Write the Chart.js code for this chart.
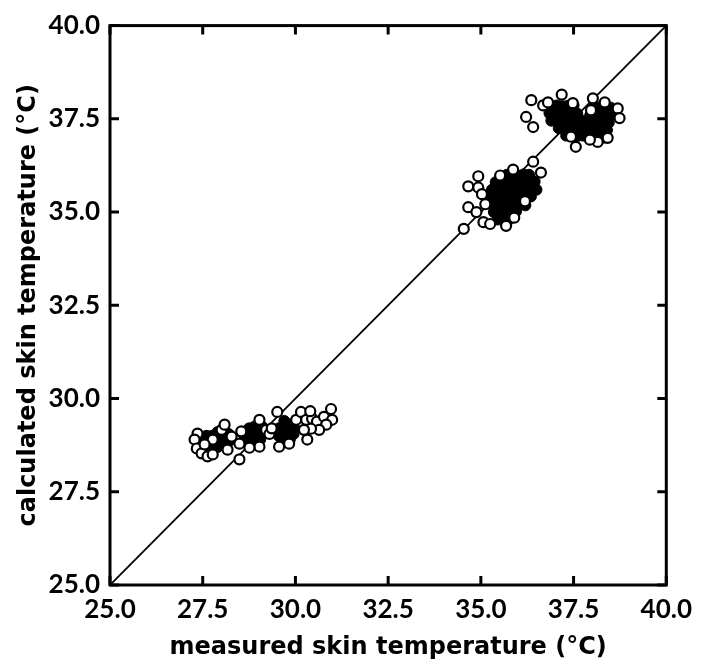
<!DOCTYPE html>
<html>
<head>
<meta charset="utf-8">
<script src="https://cdn.jsdelivr.net/npm/chart.js@4/dist/chart.umd.min.js"></script>
<style>
  html, body { margin: 0; padding: 0; background: #ffffff; }
  #wrap { width: 701px; height: 663px; }
</style>
</head>
<body>
<div id="wrap"><canvas id="c" width="701" height="663"></canvas></div>
<script>
// Axis range and tick spacing (°C)
const axisMin = 25;
const axisMax = 40;
const tickStep = 2.5;

// Line of identity: calculated = measured
const identityLine = [[25, 25], [40, 40]];

// Cool condition (~27-31 °C): tightly overlapping observations
const coolDense = [
  [27.45, 28.75], [27.45, 28.95], [27.60, 28.60], [27.60, 28.80], [27.60, 29.00],
  [27.75, 28.60], [27.75, 28.80], [27.75, 29.00], [27.90, 28.70], [27.90, 28.90],
  [27.90, 29.10], [28.05, 28.75], [28.05, 28.95], [28.20, 28.85], [28.20, 29.05],
  [28.60, 28.85], [28.60, 29.05], [28.75, 28.80], [28.75, 29.00], [28.75, 29.20],
  [28.90, 28.85], [28.90, 29.05], [28.90, 29.25], [29.05, 28.90], [29.05, 29.10],
  [29.10, 29.25],
  [29.55, 29.00], [29.55, 29.20], [29.70, 28.85], [29.70, 29.05], [29.70, 29.25],
  [29.70, 29.40], [29.85, 28.90], [29.85, 29.10], [29.85, 29.30], [29.95, 29.05],
  [29.95, 29.25]
];
// Cool condition: separately visible observations
const coolOpen = [
  [27.36, 29.06], [27.28, 28.90], [27.34, 28.66], [27.47, 28.53], [27.63, 28.45],
  [27.77, 28.50], [28.01, 29.16], [28.09, 29.30], [28.17, 28.63], [28.28, 28.98],
  [27.77, 28.90], [27.55, 28.77],
  [28.49, 28.79], [28.54, 29.12], [29.03, 29.43], [29.03, 28.71], [28.76, 28.68],
  [29.21, 29.16], [29.30, 29.05], [29.36, 29.20],
  [29.51, 29.64], [29.56, 28.71], [29.83, 28.79], [30.02, 29.43],
  [28.49, 28.37],
  [30.15, 29.64], [30.29, 29.43], [30.45, 29.46], [30.58, 29.38], [30.77, 29.51],
  [30.96, 29.72], [30.99, 29.43], [30.83, 29.30], [30.64, 29.16], [30.42, 29.19],
  [30.32, 28.90], [30.23, 29.16], [30.40, 29.66]
];

// Warm condition (~35-36.5 °C)
const warmDense = [
  [35.70, 36.00], [35.85, 36.02], [36.00, 35.98], [36.15, 36.01], [36.30, 36.00],
  [35.40, 35.80], [35.55, 35.82], [35.70, 35.79], [35.85, 35.80], [36.00, 35.81],
  [36.15, 35.78], [36.30, 35.80], [36.45, 35.82],
  [35.30, 35.60], [35.45, 35.61], [35.60, 35.58], [35.75, 35.60], [35.90, 35.62],
  [36.05, 35.59], [36.20, 35.60], [36.35, 35.61], [36.50, 35.60],
  [35.30, 35.40], [35.45, 35.42], [35.60, 35.39], [35.75, 35.40], [35.90, 35.41],
  [36.05, 35.38], [36.20, 35.40], [36.35, 35.42],
  [35.30, 35.20], [35.45, 35.21], [35.60, 35.19], [35.75, 35.20], [35.90, 35.22],
  [36.05, 35.20], [36.20, 35.18],
  [35.35, 35.00], [35.50, 35.01], [35.65, 34.99], [35.80, 35.00], [35.95, 35.02],
  [35.45, 34.80], [35.60, 34.81], [35.75, 34.79]
];
const warmOpen = [
  [34.54, 34.55], [34.66, 35.69], [34.93, 35.96], [34.93, 35.66], [34.66, 35.13],
  [34.88, 35.00], [35.12, 35.21], [35.07, 34.73], [35.25, 34.68], [35.68, 34.63],
  [35.87, 36.14], [36.41, 36.35], [36.62, 36.06], [36.19, 35.29], [35.52, 35.98],
  [35.90, 34.85], [35.03, 35.48]
];

// Hot condition (~36.5-38.8 °C)
const hotDense = [
  [36.90, 37.85], [37.05, 37.86], [37.20, 37.84], [37.35, 37.85], [37.50, 37.86],
  [36.85, 37.65], [37.00, 37.66], [37.15, 37.64], [37.30, 37.65], [37.45, 37.66],
  [37.60, 37.64],
  [36.90, 37.45], [37.05, 37.46], [37.20, 37.44], [37.35, 37.45], [37.50, 37.46],
  [37.65, 37.44], [37.80, 37.45],
  [37.10, 37.25], [37.25, 37.26], [37.40, 37.24], [37.55, 37.25], [37.70, 37.26],
  [37.85, 37.24],
  [37.30, 37.05], [37.45, 37.06], [37.60, 37.04], [37.75, 37.05], [37.90, 37.06],
  [38.05, 37.80], [38.20, 37.81], [38.35, 37.79], [38.50, 37.80],
  [37.95, 37.60], [38.10, 37.61], [38.25, 37.59], [38.40, 37.60], [38.55, 37.61],
  [38.00, 37.40], [38.15, 37.41], [38.30, 37.39], [38.45, 37.40],
  [38.00, 37.20], [38.15, 37.21], [38.30, 37.19], [38.40, 37.20],
  [38.05, 37.00], [38.20, 37.01], [38.30, 36.99]
];
const hotOpen = [
  [36.36, 38.00], [36.22, 37.55], [36.41, 37.28], [37.18, 38.15], [36.68, 37.86],
  [38.02, 38.05], [37.97, 37.73], [38.69, 37.78], [38.74, 37.52], [37.56, 36.75],
  [38.15, 36.88], [37.94, 36.94], [38.42, 36.99], [37.43, 37.02], [36.81, 37.94],
  [37.48, 37.92], [38.34, 37.94]
];

const toPoints = arr => arr.map(([x, y]) => ({ x, y }));

const denseStyle = {
  pointRadius: 5.5,
  pointBorderWidth: 1,
  pointBackgroundColor: '#000',
  pointBorderColor: '#000',
  showLine: false,
  order: 2
};
const openStyle = {
  pointRadius: 5,
  pointBorderWidth: 2.2,
  pointBackgroundColor: '#fff',
  pointBorderColor: '#000',
  showLine: false,
  order: 1
};

// Frame with inward-pointing ticks on all four sides
const framePlugin = {
  id: 'frame',
  afterDatasetsDraw(chart) {
    const { ctx, chartArea: a, scales: { x, y } } = chart;
    const len = 9;
    ctx.save();
    ctx.strokeStyle = '#000';
    ctx.lineWidth = 3;
    ctx.lineCap = 'butt';
    ctx.strokeRect(a.left, a.top, a.right - a.left, a.bottom - a.top);
    ctx.beginPath();
    x.ticks.forEach(t => {
      const px = x.getPixelForValue(t.value);
      ctx.moveTo(px, a.bottom); ctx.lineTo(px, a.bottom - len);
      ctx.moveTo(px, a.top); ctx.lineTo(px, a.top + len);
    });
    y.ticks.forEach(t => {
      const py = y.getPixelForValue(t.value);
      ctx.moveTo(a.left, py); ctx.lineTo(a.left + len, py);
      ctx.moveTo(a.right, py); ctx.lineTo(a.right - len, py);
    });
    ctx.stroke();
    ctx.restore();
  }
};

const tickFont = { family: 'Lato, "DejaVu Sans", sans-serif', size: 26, weight: 'bold' };
const titleFont = { family: '"DejaVu Sans", sans-serif', size: 24, weight: 'bold' };

new Chart(document.getElementById('c'), {
  type: 'scatter',
  data: {
    datasets: [
      {
        data: toPoints(identityLine),
        showLine: true,
        borderColor: '#000',
        borderWidth: 1.8,
        pointRadius: 0,
        fill: false,
        order: 3
      },
      { data: toPoints(coolDense), ...denseStyle },
      { data: toPoints(warmDense), ...denseStyle },
      { data: toPoints(hotDense), ...denseStyle },
      { data: toPoints(coolOpen), ...openStyle },
      { data: toPoints(warmOpen), ...openStyle },
      { data: toPoints(hotOpen), ...openStyle }
    ]
  },
  options: {
    responsive: false,
    animation: false,
    events: [],
    devicePixelRatio: 1,
    layout: { padding: { left: 0, top: 20, right: 32, bottom: 0 } },
    plugins: {
      legend: { display: false },
      tooltip: { enabled: false }
    },
    scales: {
      x: {
        type: 'linear',
        min: axisMin,
        max: axisMax,
        grid: { display: false, drawTicks: false },
        border: { display: false },
        ticks: {
          stepSize: tickStep,
          padding: 9,
          color: '#000',
          font: tickFont,
          maxRotation: 0,
          callback: v => Number(v).toFixed(1)
        },
        title: {
          display: true,
          text: 'measured skin temperature (°C)',
          color: '#000',
          font: titleFont,
          padding: { top: 0, bottom: 1 }
        },
        afterFit: s => { s.height = 78; }
      },
      y: {
        type: 'linear',
        min: axisMin,
        max: axisMax,
        grid: { display: false, drawTicks: false },
        border: { display: false },
        ticks: {
          stepSize: tickStep,
          padding: 10,
          color: '#000',
          font: tickFont,
          callback: v => Number(v).toFixed(1)
        },
        title: {
          display: true,
          text: 'calculated skin temperature (°C)',
          color: '#000',
          font: titleFont,
          padding: { top: 14, bottom: 0 }
        },
        afterFit: s => { s.width = 110; }
      }
    }
  },
  plugins: [framePlugin]
});
</script>
</body>
</html>
